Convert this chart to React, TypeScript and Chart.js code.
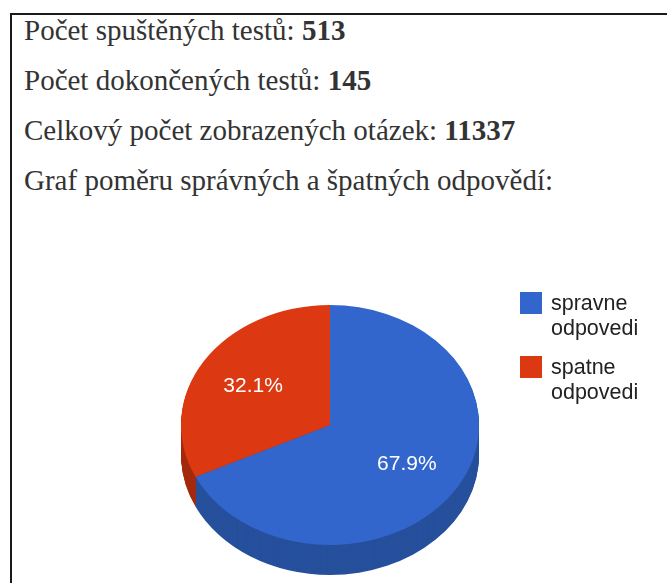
import React, { useEffect, useRef } from "react";
import { Chart, ArcElement, PieController } from "chart.js";

Chart.register(ArcElement, PieController);

const headerLabels = [
  "Počet spuštěných testů:",
  "Počet dokončených testů:",
  "Celkový počet zobrazených otázek:",
  "Graf poměru správných a špatných odpovědí:",
];
const headerValues = ["513", "145", "11337", ""];

const categories = ["spravne odpovedi", "spatne odpovedi"];
const legendLines = [
  ["spravne", "odpovedi"],
  ["spatne", "odpovedi"],
];
const values = [67.9, 32.1];
const topColors = ["#3366cc", "#dc3912"];
const sideColors = ["#26509c", "#a42a0d"];

const TILT = 120 / 149;
const DEPTH = 30;
const LABEL_R = 0.61;

const pie3d = {
  id: "pie3d",
  beforeDatasetsDraw(chart: any) {
    const ctx = chart.ctx;
    const arcs = chart.getDatasetMeta(0).data;
    if (!arcs.length) return;
    const cx = arcs[0].x;
    const cy = arcs[0].y;
    for (let k = DEPTH; k >= 1; k--) {
      arcs.forEach((a: any, i: number) => {
        ctx.save();
        ctx.translate(cx, cy + k);
        ctx.scale(1, TILT);
        ctx.beginPath();
        ctx.moveTo(0, 0);
        ctx.arc(0, 0, a.outerRadius, a.startAngle, a.endAngle);
        ctx.closePath();
        ctx.fillStyle = sideColors[i];
        ctx.fill();
        ctx.restore();
      });
    }
    ctx.save();
    ctx.translate(cx, cy);
    ctx.scale(1, TILT);
    ctx.translate(-cx, -cy);
  },
  afterDatasetsDraw(chart: any) {
    const ctx = chart.ctx;
    ctx.restore();
    const arcs = chart.getDatasetMeta(0).data;
    const total = values.reduce((s, v) => s + v, 0);
    ctx.save();
    ctx.fillStyle = "#ffffff";
    ctx.font = "21px 'Liberation Sans', Arial, sans-serif";
    ctx.textAlign = "center";
    ctx.textBaseline = "middle";
    arcs.forEach((a: any, i: number) => {
      const mid = (a.startAngle + a.endAngle) / 2;
      const r = a.outerRadius * LABEL_R;
      const x = a.x + Math.cos(mid) * r;
      const y = a.y + Math.sin(mid) * r * TILT;
      ctx.fillText(((values[i] / total) * 100).toFixed(1) + "%", x, y);
    });
    ctx.restore();
  },
  afterDraw(chart: any) {
    const ctx = chart.ctx;
    ctx.save();
    ctx.font = "21.5px 'Liberation Sans', Arial, sans-serif";
    ctx.textAlign = "left";
    ctx.textBaseline = "alphabetic";
    const boxX = 520;
    const textX = 551;
    const top0 = 292;
    const itemGap = 64;
    const lineH = 25;
    legendLines.forEach((lines, i) => {
      const top = top0 + i * itemGap;
      ctx.fillStyle = topColors[i];
      ctx.fillRect(boxX, top, 22, 22);
      ctx.fillStyle = "#222222";
      lines.forEach((ln, j) => {
        ctx.fillText(ln, textX, top + 18 + j * lineH);
      });
    });
    ctx.restore();
  },
};

export default function App() {
  const ref = useRef<HTMLCanvasElement>(null);
  useEffect(() => {
    if (!ref.current) return;
    const chart = new Chart(ref.current, {
      type: "pie",
      data: {
        labels: categories,
        datasets: [
          {
            data: values,
            backgroundColor: topColors,
            borderWidth: 0,
          },
        ],
      },
      options: {
        responsive: false,
        animation: false,
        devicePixelRatio: 1,
        events: [],
        layout: { padding: { left: 181, right: 188, top: 276, bottom: 9 } },
        plugins: { legend: { display: false }, tooltip: { enabled: false } } as any,
      },
      plugins: [pie3d],
    });
    return () => chart.destroy();
  }, []);

  return (
    <div
      style={{
        position: "fixed",
        left: 0,
        top: 0,
        width: 667,
        height: 583,
        background: "#ffffff",
        overflow: "hidden",
      }}
    >
      <div
        style={{
          position: "absolute",
          left: 10,
          top: 13,
          width: 660,
          height: 580,
          borderLeft: "2px solid #1a1a1a",
          borderTop: "2px solid #1a1a1a",
        }}
      />
      {headerLabels.map((t, i) => (
        <div
          key={i}
          style={{
            position: "absolute",
            left: 24,
            top: 11 + i * 50,
            height: 38,
            lineHeight: "38px",
            fontFamily: "'Liberation Serif', 'Times New Roman', serif",
            fontSize: 29,
            color: "#333333",
            whiteSpace: "nowrap",
          }}
        >
          {t}
          {headerValues[i] ? " " : ""}
          {headerValues[i] ? <b>{headerValues[i]}</b> : null}
        </div>
      ))}
      <canvas
        ref={ref}
        width={667}
        height={583}
        style={{ position: "absolute", left: 0, top: 0, width: 667, height: 583 }}
      />
    </div>
  );
}
